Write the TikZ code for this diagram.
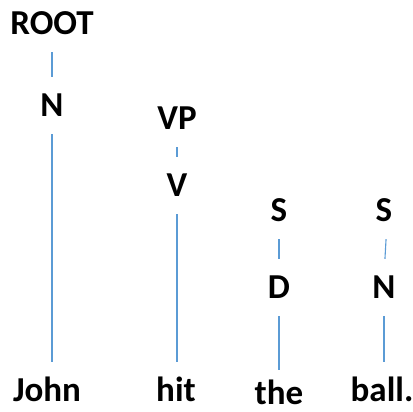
\documentclass[tikz,border=0pt]{standalone}
\usepackage{fontspec}
\setmainfont{Carlito}
\definecolor{edgeblue}{RGB}{91,155,213}
\tikzset{
  lab/.style={font=\fontsize{35}{40}\selectfont\bfseries, inner sep=0pt, text height=23pt, text depth=0pt, anchor=base},
  edge/.style={draw=edgeblue, line width=1.1pt, shorten <=17pt, shorten >=17pt}
}
\begin{document}
\begin{tikzpicture}[x=1pt,y=1pt]
\useasboundingbox (0,0) rectangle (412,412);
\node[lab] (root) at (52,377) {ROOT};
\node[lab] (n1) at (52,295) {N};
\node[lab] (john) at (47,10) {John};
\node[lab] (vp) at (177,282) {VP};
\node[lab] (v) at (177,215) {V};
\node[lab] (hit) at (176,10) {hit};
\node[lab] (s1) at (279,190) {S};
\node[lab] (d) at (279,113) {D};
\node[lab] (the) at (279,7) {the};
\node[lab] (s2) at (384,190) {S};
\node[lab] (n2) at (384,113) {N};
\node[lab] (ball) at (382,10) {ball.};
\draw[edge] (root.south) -- (n1.north);
\draw[edge] (n1.south) -- (john.north -| n1.south);
\draw[edge] (vp.south) -- (v.north);
\draw[edge] (v.south) -- (hit.north -| v.south);
\draw[edge] (s1.south) -- (d.north);
\draw[edge] (d.south) -- ([yshift=-5pt]the.north -| d.south);
\draw[edge] ([xshift=3pt]s2.south) -- (n2.north);
\draw[edge] (n2.south) -- (ball.north -| n2.south);
\end{tikzpicture}
\end{document}
